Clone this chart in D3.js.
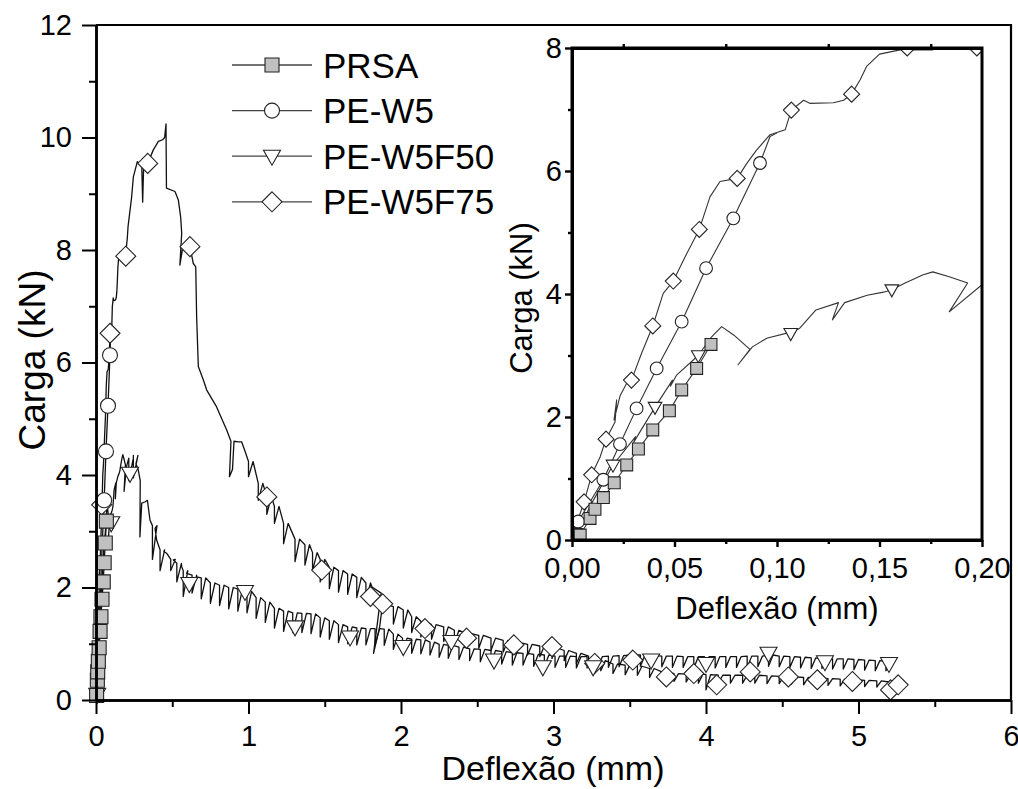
<!DOCTYPE html>
<html>
<head>
<meta charset="utf-8">
<script src="https://cdn.jsdelivr.net/npm/d3@7"></script>
<style>
  body { margin: 0; background: #fff; }
  svg text { font-family: "Liberation Sans", Arial, sans-serif; fill: #000; }
</style>
</head>
<body>
<svg id="chart" width="1018" height="789"></svg>
<script>
// ---- data (deflexão mm, carga kN) ----
// [x, y] = point, [x, top, low] = load drop (tooth) at x
var seriesNames = ["PRSA", "PE-W5", "PE-W5F50", "PE-W5F75"];

var prsa = [[0,0],[0.004,0.08],[0.0088,0.35],[0.0112,0.5],[0.0153,0.69],[0.0206,0.93],[0.0267,1.22],
  [0.0324,1.48],[0.0394,1.79],[0.0475,2.1],[0.0535,2.44],[0.0608,2.79],[0.0678,3.18],[0.0695,3.25]];

var pew5 = [[0,0],[0.003,0.3],[0.0153,0.98],[0.0234,1.56],[0.0315,2.14],[0.0413,2.79],[0.0535,3.55],
  [0.0654,4.42],[0.0787,5.23],[0.0917,6.13],[0.0966,6.56],[0.1,6.62]];

var pew5f50 = [[0,0],[0.002,0.11],[0.01,0.62],[0.02,1.22],[0.031,1.68],[0.03,1.58],[0.033,1.75],
  [0.0405,2.16],[0.049,2.6],[0.048,2.5],[0.051,2.68],[0.0616,3.0],[0.068,3.3],[0.073,3.47],[0.079,3.33],
  [0.0868,3.1],[0.081,2.85],[0.088,3.14],[0.095,3.28],[0.1067,3.38],[0.111,3.44],[0.119,3.74],[0.13,3.86],
  [0.127,3.58],[0.133,3.86],[0.144,3.98],[0.152,4.03],[0.156,4.07],[0.162,4.17],[0.171,4.31],[0.176,4.36],
  [0.184,4.28],[0.193,4.18],[0.184,3.71],[0.2,4.15],[0.215,4.3,3.9],[0.245,4.35,3.95],[0.262,4.2],
  [0.277,4.09],[0.29,3.9],[0.288,2.9],[0.3,3.5],[0.32,3.52],[0.337,3.55],[0.354,3.2],[0.37,3.1,2.5],
  [0.387,3.05],[0.398,2.84],[0.42,2.67,2.3],[0.445,2.64],[0.463,2.61],[0.49,2.5,2.3],[0.507,2.49],
  [0.53,2.43,2.1],[0.562,2.37],[0.572,2.3,1.84],[0.594,2.25],[0.63,2.22,1.9],[0.66,2.19],
  [0.69,2.17,1.8],[0.75,2.08,1.72],[0.81,2.04,1.68],[0.87,2.0,1.62],[0.93,1.97,1.58],[0.99,1.93,1.55],
  [1.05,1.82,1.45],[1.11,1.74,1.38],[1.17,1.63,1.28],[1.23,1.58,1.22],[1.29,1.55,1.2],[1.35,1.54,1.2],
  [1.41,1.53,1.18],[1.47,1.46,1.12],[1.53,1.41,1.08],[1.59,1.34,1.02],[1.65,1.3,1.0],[1.71,1.28,0.98],
  [1.77,1.27,0.98],[1.83,1.27,0.98],[1.89,1.26,0.97],[1.95,1.17,0.9],[2.01,1.1,0.85],[2.07,1.08,0.83],
  [2.13,1.07,0.82],[2.19,1.03,0.8],[2.25,0.99,0.76],[2.31,0.97,0.74],[2.38,0.94,0.72],[2.45,0.91,0.7],
  [2.52,0.9,0.68],[2.59,0.88,0.66],[2.66,0.86,0.64],[2.73,0.84,0.62],[2.8,0.83,0.62],[2.87,0.81,0.6],
  [2.94,0.8,0.6],[3.01,0.78,0.58],[3.08,0.78,0.58],[3.15,0.77,0.57],[3.22,0.77,0.57],[3.29,0.77,0.57],
  [3.36,0.78,0.58],[3.43,0.79,0.59],[3.5,0.8,0.6],[3.57,0.8,0.6],[3.64,0.79,0.6],[3.71,0.78,0.59],
  [3.78,0.78,0.58],[3.85,0.77,0.58],[3.92,0.77,0.57],[3.99,0.77,0.57],[4.06,0.77,0.57],[4.13,0.77,0.58],
  [4.2,0.77,0.58],[4.27,0.78,0.58],[4.34,0.78,0.59],[4.41,0.8,0.6],[4.48,0.78,0.59],[4.55,0.77,0.58],
  [4.62,0.76,0.57],[4.69,0.75,0.56],[4.76,0.74,0.56],[4.83,0.73,0.55],[4.9,0.73,0.55],[4.97,0.72,0.54],
  [5.04,0.71,0.53],[5.11,0.7,0.52],[5.18,0.69,0.52],[5.22,0.66]];

var pew5f75 = [[0,0],[0.0015,0.08],[0.0023,0.27],[0.0059,0.62],[0.0096,1.06],[0.0137,1.35],[0.0166,1.64],
  [0.021,1.92],[0.0218,2.28],[0.0205,1.95],[0.0235,2.35],[0.0267,2.55],[0.029,2.6],[0.034,3.04],
  [0.0394,3.48],[0.0445,4.01],[0.0494,4.21],[0.056,4.66],[0.0621,5.05],[0.0673,5.58],[0.0722,5.83],
  [0.0806,5.88],[0.0852,6.12],[0.09,6.34],[0.0966,6.59],[0.104,6.67],[0.107,6.99],[0.113,7.15],
  [0.116,7.1],[0.1275,7.11],[0.1325,7.15],[0.1364,7.25],[0.1405,7.48],[0.1437,7.7],[0.15,7.9],
  [0.16,7.97],[0.176,7.97],[0.181,8.02],[0.196,7.97],[0.205,8.2],[0.21,8.41],[0.234,8.95],[0.245,9.3],
  [0.271,9.57],[0.3,9.5],[0.306,8.85],[0.312,9.45],[0.339,9.54],[0.376,9.78],[0.409,9.93],[0.437,9.96],
  [0.45,10.0],[0.459,10.24],[0.462,9.1],[0.518,9.04],[0.54,8.89],[0.555,8.59],[0.562,8.3],[0.55,7.73],
  [0.572,8.1],[0.6,8.12],[0.616,8.06],[0.638,7.76],[0.654,7.7],[0.66,6.81],[0.671,5.93],[0.704,5.69],
  [0.726,5.51],[0.791,5.21],[0.813,5.07],[0.857,4.8],[0.885,4.6],[0.875,3.97],[0.895,4.1],[0.905,4.6],
  [0.933,4.59],[0.955,4.59],[0.98,4.4],[1.0,4.24,3.97],[1.064,3.85,3.55],[1.12,3.62,3.3],[1.17,3.44,3.14],
  [1.23,3.14,2.78],[1.305,2.86,2.46],[1.37,2.76,2.4],[1.42,2.62,2.3],[1.47,2.5,2.1],[1.53,2.36,1.98],
  [1.59,2.3,1.92],[1.65,2.24,1.88],[1.71,2.18,1.82],[1.77,2.08,1.75],[1.81,2.01],[1.87,1.9],[1.82,0.83],
  [1.86,1.3],[1.88,1.72],[1.95,1.66,1.35],[2.015,1.6,1.28],[2.07,1.48,1.2],[2.13,1.4,1.12],[2.2,1.34,1.08],
  [2.28,1.3,1.04],[2.35,1.24,1.0],[2.43,1.18,0.95],[2.51,1.15,0.92],[2.59,1.1,0.88],[2.67,1.06,0.85],
  [2.75,1.02,0.82],[2.83,0.99,0.8],[2.91,0.96,0.77],[2.99,0.93,0.74],[3.07,0.88,0.7],[3.15,0.83,0.65],
  [3.23,0.78,0.58],[3.31,0.7,0.52],[3.39,0.64,0.47],[3.47,0.62,0.45],[3.55,0.6,0.44],[3.63,0.56,0.4],
  [3.71,0.5,0.35],[3.79,0.47,0.33],[3.87,0.46,0.32],[3.95,0.46,0.3],[4.0,0.45,0.18],[4.08,0.44,0.3],
  [4.16,0.44,0.3],[4.24,0.44,0.3],[4.32,0.44,0.3],[4.4,0.43,0.29],[4.48,0.42,0.29],[4.56,0.41,0.28],
  [4.64,0.4,0.27],[4.72,0.39,0.26],[4.8,0.38,0.26],[4.88,0.37,0.25],[4.96,0.36,0.24],[5.04,0.35,0.24],
  [5.12,0.34,0.23],[5.2,0.32,0.2],[5.26,0.28]];

// symbol positions
var prsaMarks = [[0.004,0.08],[0.0088,0.35],[0.0112,0.5],[0.0153,0.69],[0.0206,0.93],[0.0267,1.22],
  [0.0324,1.48],[0.0394,1.79],[0.0475,2.1],[0.0535,2.44],[0.0608,2.79],[0.0678,3.18]];
var pew5MarksMain = [[0.0535,3.55],[0.0654,4.42],[0.0787,5.23],[0.0917,6.13]];
var pew5MarksInset = [[0.003,0.3],[0.0153,0.98],[0.0234,1.56],[0.0315,2.14],[0.0413,2.79],[0.0535,3.55],
  [0.0654,4.42],[0.0787,5.23],[0.0917,6.13]];
var f50MarksMain = [[0.008,0.1],[0.1,3.15],[0.223,4.03],[0.612,2.07],[0.977,1.93],[1.305,1.3],[1.666,1.12],
  [2.015,0.95],[2.33,1.04],[2.61,0.71],[2.93,0.59],[3.26,0.59],[3.64,0.71],[4.0,0.65],[4.41,0.83],
  [4.78,0.68],[5.2,0.65]];
var f50MarksInset = [[0.002,0.11],[0.02,1.22],[0.0405,2.16],[0.0616,3.0],[0.1067,3.36],[0.156,4.07]];
var f75MarksMain = [[0.037,3.47],[0.092,6.52],[0.195,7.89],[0.339,9.54],[0.616,8.06],[1.12,3.61],
  [1.48,2.31],[1.8,1.84],[1.88,1.71],[2.157,1.27],[2.43,1.1],[2.74,0.98],[2.99,0.95],[3.27,0.65],
  [3.52,0.71],[3.74,0.41],[3.92,0.47],[4.07,0.27],[4.29,0.5],[4.54,0.41],[4.73,0.36],[4.96,0.33],
  [5.21,0.18],[5.26,0.27]];
var f75MarksInset = [[0.0015,0.08],[0.0059,0.62],[0.0096,1.06],[0.0166,1.64],[0.029,2.6],[0.0394,3.48],
  [0.0494,4.21],[0.0621,5.05],[0.0806,5.88],[0.107,6.99],[0.1364,7.25],[0.1635,8.0],[0.1975,8.0]];

var mainXTicks = [0,1,2,3,4,5,6], mainYTicks = [0,2,4,6,8,10,12];
var insetXTicks = [0,0.05,0.1,0.15,0.2], insetYTicks = [0,2,4,6,8];

// ---- drawing ----
var svg = d3.select("#chart");
var FONT = '"Liberation Sans", Arial, sans-serif';

// expand load-drop rows into path points
function expand(rows, r) {
  var out = [];
  rows.forEach(function(d) {
    if (d.length === 3) out.push([d[0], d[1]], [d[0], d[2]], [d[0] + r, d[1]]);
    else out.push(d);
  });
  return out;
}

var shapes = {
  square: function(p, s) { s = 7 * s; p.moveTo(-s,-s); p.lineTo(s,-s); p.lineTo(s,s); p.lineTo(-s,s); p.closePath(); },
  circle: function(p, s) { s = 7.5 * s; p.moveTo(s,0); p.arc(0,0,s,0,2*Math.PI); p.closePath(); },
  triangle: function(p, s) { p.moveTo(-8.5*s,-6*s); p.lineTo(8.5*s,-6*s); p.lineTo(0,9*s); p.closePath(); },
  diamond: function(p, s) { s = 10 * s; p.moveTo(0,-s); p.lineTo(s,0); p.lineTo(0,s); p.lineTo(-s,0); p.closePath(); }
};
var styles = [
  {shape: "square", fill: "#c0c0c0"},
  {shape: "circle", fill: "#fff"},
  {shape: "triangle", fill: "#fff"},
  {shape: "diamond", fill: "#fff"}
];
function symbolPath(shape, s) { var p = d3.path(); shapes[shape](p, s); return p.toString(); }

function drawMarks(g, pts, st, x, y, s) {
  g.selectAll(null).data(pts).enter().append("path")
    .attr("d", symbolPath(st.shape, s))
    .attr("transform", function(d) { return "translate(" + x(d[0]) + "," + y(d[1]) + ")"; })
    .attr("fill", st.fill).attr("stroke", "#222").attr("stroke-width", 1.1);
}

function styleAxis(g, fs, w) {
  g.attr("font-family", FONT).attr("font-size", fs);
  g.select(".domain").attr("stroke-width", w).attr("stroke", "#000");
  g.selectAll(".tick line").attr("stroke-width", w * 0.8).attr("stroke", "#000");
  g.selectAll(".tick text").attr("fill", "#000");
}

// main plot
var x = d3.scaleLinear().domain([0, 6]).range([96, 1011]);
var y = d3.scaleLinear().domain([0, 12]).range([700, 25]);

svg.append("clipPath").attr("id", "clipMain").append("rect")
  .attr("x", 96).attr("y", 25).attr("width", 915).attr("height", 675);

var line = d3.line().x(function(d) { return x(d[0]); }).y(function(d) { return y(d[1]); });
var all = [prsa, pew5, pew5f50, pew5f75];

var gm = svg.append("g").attr("clip-path", "url(#clipMain)");
all.forEach(function(s) {
  gm.append("path").datum(expand(s, 0.03)).attr("d", line)
    .attr("fill", "none").attr("stroke", "#111").attr("stroke-width", 1.3).attr("stroke-linejoin", "round");
});
var gmk = svg.append("g");
drawMarks(gmk, f75MarksMain, styles[3], x, y, 1);
drawMarks(gmk, f50MarksMain, styles[2], x, y, 1);
drawMarks(gmk, pew5MarksMain, styles[1], x, y, 1);
drawMarks(gmk, prsaMarks, styles[0], x, y, 1);

// frame (top/right without ticks)
svg.append("path").attr("d", "M" + x(0) + "," + y(12) + "H" + x(6) + "V" + y(0))
  .attr("fill", "none").attr("stroke", "#000").attr("stroke-width", 2.2);

svg.append("g").attr("transform", "translate(0,700)")
  .call(d3.axisBottom(x).tickValues([0.5,1.5,2.5,3.5,4.5,5.5]).tickSize(7).tickFormat("").tickSizeOuter(0))
  .call(styleAxis, 29, 2.5);
svg.append("g").attr("transform", "translate(0,700)")
  .call(d3.axisBottom(x).tickValues(mainXTicks).tickSize(14).tickPadding(11).tickFormat(d3.format("d")).tickSizeOuter(0))
  .call(styleAxis, 29, 2.5);
svg.append("g").attr("transform", "translate(96,0)")
  .call(d3.axisLeft(y).tickValues([1,3,5,7,9,11]).tickSize(7).tickFormat("").tickSizeOuter(0))
  .call(styleAxis, 29, 2.5);
svg.append("g").attr("transform", "translate(96,0)")
  .call(d3.axisLeft(y).tickValues(mainYTicks).tickSize(14).tickPadding(10).tickFormat(d3.format("d")).tickSizeOuter(0))
  .call(styleAxis, 29, 2.5);

svg.append("text").attr("x", 553).attr("y", 780).attr("text-anchor", "middle")
  .attr("font-size", 34).text("Deflexão (mm)");
svg.append("text").attr("transform", "translate(45,360) rotate(-90)").attr("text-anchor", "middle")
  .attr("font-size", 37).text("Carga (kN)");

// legend
var lg = svg.append("g");
seriesNames.forEach(function(name, i) {
  var cy = 65 + i * 45.6;
  lg.append("line").attr("x1", 232).attr("x2", 312).attr("y1", cy).attr("y2", cy)
    .attr("stroke", "#444").attr("stroke-width", 1.3);
  drawMarks(lg, [[0, 0]], styles[i], function() { return 272; }, function() { return cy; }, 1);
  lg.append("text").attr("x", 323).attr("y", cy + 12.5).attr("font-size", 35).text(name);
});

// inset
var xi = d3.scaleLinear().domain([0, 0.2]).range([572, 982]);
var yi = d3.scaleLinear().domain([0, 8]).range([540, 48]);

svg.append("rect").attr("x", 572).attr("y", 48).attr("width", 410).attr("height", 492).attr("fill", "#fff");
svg.append("clipPath").attr("id", "clipInset").append("rect")
  .attr("x", 572).attr("y", 48).attr("width", 410).attr("height", 492);

var linei = d3.line().x(function(d) { return xi(d[0]); }).y(function(d) { return yi(d[1]); });
var gi = svg.append("g").attr("clip-path", "url(#clipInset)");
all.forEach(function(s) {
  gi.append("path").datum(expand(s, 0.03).filter(function(d) { return d[0] <= 0.25; })).attr("d", linei)
    .attr("fill", "none").attr("stroke", "#333").attr("stroke-width", 1.1).attr("stroke-linejoin", "round");
});
drawMarks(gi, f75MarksInset, styles[3], xi, yi, 0.8);
drawMarks(gi, f50MarksInset, styles[2], xi, yi, 0.8);
drawMarks(gi, pew5MarksInset, styles[1], xi, yi, 0.85);
drawMarks(gi, prsaMarks, styles[0], xi, yi, 0.85);

svg.append("rect").attr("x", 572).attr("y", 48).attr("width", 410).attr("height", 492)
  .attr("fill", "none").attr("stroke", "#000").attr("stroke-width", 3);

var fmtComma = function(d) { return d3.format(".2f")(d).replace(".", ","); };
svg.append("g").attr("transform", "translate(0,540)")
  .call(d3.axisBottom(xi).tickValues([0.025,0.075,0.125,0.175]).tickSize(4).tickFormat("").tickSizeOuter(0))
  .call(styleAxis, 29, 3);
svg.append("g").attr("transform", "translate(0,540)")
  .call(d3.axisBottom(xi).tickValues(insetXTicks).tickSize(7).tickPadding(10).tickFormat(fmtComma).tickSizeOuter(0))
  .call(styleAxis, 29, 3);
svg.append("g").attr("transform", "translate(0,48)")
  .call(d3.axisTop(xi).tickValues([0.025,0.075,0.125,0.175]).tickSize(4).tickFormat("").tickSizeOuter(0))
  .call(styleAxis, 29, 3);
svg.append("g").attr("transform", "translate(572,0)")
  .call(d3.axisLeft(yi).tickValues([1,3,5,7]).tickSize(4).tickFormat("").tickSizeOuter(0))
  .call(styleAxis, 29, 3);
svg.append("g").attr("transform", "translate(572,0)")
  .call(d3.axisLeft(yi).tickValues(insetYTicks).tickSize(7).tickPadding(3).tickFormat(d3.format("d")).tickSizeOuter(0))
  .call(styleAxis, 29, 3);

svg.append("text").attr("x", 777).attr("y", 619).attr("text-anchor", "middle")
  .attr("font-size", 31).text("Deflexão (mm)");
svg.append("text").attr("transform", "translate(532,298) rotate(-90)").attr("text-anchor", "middle")
  .attr("font-size", 31).text("Carga (kN)");
</script>
</body>
</html>
